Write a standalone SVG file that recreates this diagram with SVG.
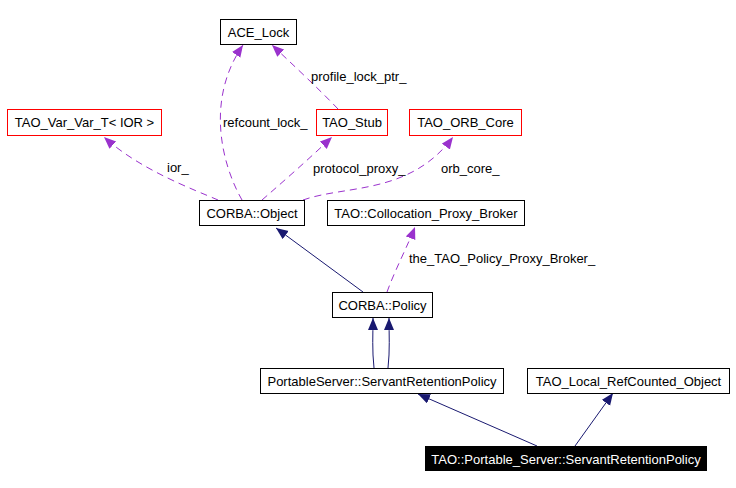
<svg xmlns="http://www.w3.org/2000/svg" width="736" height="488" viewBox="0 0 736 488">
<style>
text{font-family:"Liberation Sans",Arial,sans-serif;font-size:13px;fill:#000}
rect.b{fill:#fff;stroke:#000;stroke-width:1}
.c text{text-anchor:middle}
.inh{fill:none;stroke:#191970;stroke-width:1}
.use{fill:none;stroke:#9a32cd;stroke-width:1;stroke-dasharray:7,5}
</style>
<defs>
<marker id="an" markerWidth="13" markerHeight="11" refX="12" refY="5" orient="auto" markerUnits="userSpaceOnUse"><path d="M0,0 L12,5 L0,10 Z" fill="#191970"/></marker>
<marker id="ap" markerWidth="13" markerHeight="11" refX="12" refY="5" orient="auto" markerUnits="userSpaceOnUse"><path d="M0,0 L12,5 L0,10 Z" fill="#9a32cd"/></marker>
</defs>
<rect width="736" height="488" fill="#fff"/>
<g id="edges">
<path class="use" d="M218,200 C195,190 140,170 104,137" marker-end="url(#ap)"/>
<path class="use" d="M242,200 C222,165 205,100 243,45" marker-end="url(#ap)"/>
<path class="use" d="M262,200 C285,180 310,158 332,137" marker-end="url(#ap)"/>
<path class="use" d="M303,200 C345,185 410,195 453,137" marker-end="url(#ap)"/>
<path class="use" d="M338,109 C320,90 290,62 272,45" marker-end="url(#ap)"/>
<path class="inh" d="M363,292 L276,228" marker-end="url(#an)"/>
<path class="use" d="M387,292 C395,270 408,245 415,227" marker-end="url(#ap)"/>
<path class="inh" d="M374,368 C372,350 373,335 373,318" marker-end="url(#an)"/>
<path class="inh" d="M388,368 C390,350 389,335 389,318" marker-end="url(#an)"/>
<path class="inh" d="M537,446 L418,394" marker-end="url(#an)"/>
<path class="inh" d="M575,446 L613,393" marker-end="url(#an)"/>
<text x="167" y="172">ior_</text>
<text x="223" y="127">refcount_lock_</text>
<text x="311" y="81">profile_lock_ptr_</text>
<text x="313" y="173">protocol_proxy_</text>
<text x="441" y="173">orb_core_</text>
<text x="409" y="263">the_TAO_Policy_Proxy_Broker_</text>
</g>
<g id="ace_lock" class="c"><rect class="b" x="220.5" y="19.5" width="76" height="25"/><text x="258.5" y="37">ACE_Lock</text></g>
<g id="tao_stub" class="c"><rect x="316.5" y="109.5" width="71" height="26" fill="#fff" stroke="#ff0000"/><text x="352" y="127">TAO_Stub</text></g>
<g id="tao_orb_core" class="c"><rect x="409.5" y="109.5" width="112" height="26" fill="#fff" stroke="#ff0000"/><text x="465.5" y="127">TAO_ORB_Core</text></g>
<g id="tao_var_var_t" class="c"><rect x="7.5" y="109.5" width="154" height="26" fill="#fff" stroke="#ff0000"/><text x="84.5" y="127">TAO_Var_Var_T&lt; IOR &gt;</text></g>
<g id="corba_object" class="c"><rect class="b" x="199.5" y="200.5" width="105" height="25"/><text x="252" y="218">CORBA::Object</text></g>
<g id="collocation_proxy_broker" class="c"><rect class="b" x="327.5" y="200.5" width="197" height="25"/><text x="426" y="218">TAO::Collocation_Proxy_Broker</text></g>
<g id="corba_policy" class="c"><rect class="b" x="332.5" y="292.5" width="100" height="25"/><text x="382.5" y="310">CORBA::Policy</text></g>
<g id="ps_srp" class="c"><rect class="b" x="260.5" y="368.5" width="243" height="25"/><text x="382" y="386">PortableServer::ServantRetentionPolicy</text></g>
<g id="tao_local_refcounted_object" class="c"><rect class="b" x="527.5" y="368.5" width="202" height="25"/><text x="628.5" y="386">TAO_Local_RefCounted_Object</text></g>
<g id="tao_ps_srp" class="c"><rect x="425" y="446" width="282" height="25" fill="#000"/><text x="566" y="464" style="fill:#fff">TAO::Portable_Server::ServantRetentionPolicy</text></g>
</svg>
